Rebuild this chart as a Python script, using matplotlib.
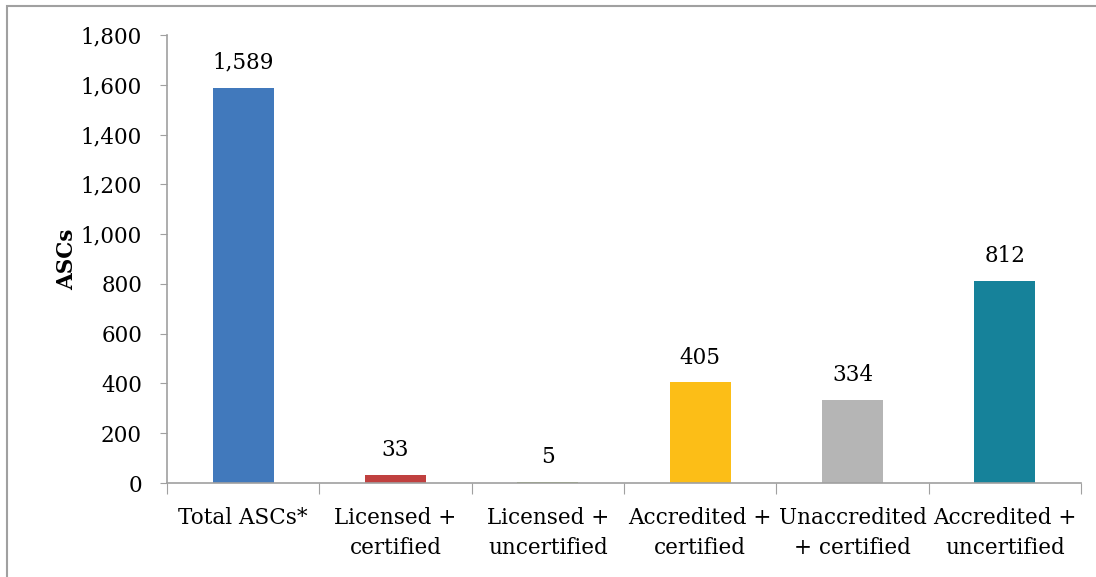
import matplotlib
matplotlib.use("Agg")
import matplotlib.pyplot as plt
from matplotlib.patches import Rectangle
from matplotlib.ticker import FuncFormatter, FixedLocator, NullFormatter

categories = ["Total ASCs*", "Licensed +\ncertified", "Licensed +\nuncertified",
              "Accredited +\ncertified", "Unaccredited\n+ certified", "Accredited +\nuncertified"]
values = [1589, 33, 5, 405, 334, 812]
colors = ["#4179BC", "#C0403F", "#8FB15A", "#FCBE17", "#B5B5B5", "#16829A"]

plt.rcParams["font.family"] = ["DejaVu Serif"]
FS = 15.5

fig = plt.figure(figsize=(10.96, 5.77), dpi=100)
ax = fig.add_axes([0.1524, 0.1629, 0.834, 0.7764])

x = range(len(categories))
ax.bar(x, values, width=0.4, color=colors)
for i, v in enumerate(values):
    ax.text(i, v + 55, f"{v:,}", ha="center", va="bottom", fontsize=FS)

ax.set_xlim(-0.5, len(categories) - 0.5)
ax.set_ylim(0, 1800)
ax.set_yticks(range(0, 1801, 200))
ax.yaxis.set_major_formatter(FuncFormatter(lambda v, p: f"{int(v):,}"))

# category boundaries get the tick marks, labels sit on minor ticks at centres
ax.xaxis.set_major_locator(FixedLocator([i - 0.5 for i in range(len(categories) + 1)]))
ax.xaxis.set_major_formatter(NullFormatter())
ax.xaxis.set_minor_locator(FixedLocator(list(x)))
ax.set_xticklabels(categories, minor=True, fontsize=FS, linespacing=1.5)
ax.tick_params(axis="x", which="minor", length=0, pad=17)
ax.tick_params(axis="x", which="major", length=8, color="#A0A0A0", direction="out")
ax.tick_params(axis="y", length=5, color="#A0A0A0", labelsize=FS, pad=13)

for s in ["top", "right"]:
    ax.spines[s].set_visible(False)
for s in ["left", "bottom"]:
    ax.spines[s].set_color("#A0A0A0")
    ax.spines[s].set_linewidth(1.2)

ax.set_ylabel("ASCs", fontsize=FS, fontweight="bold", labelpad=2)

# outer frame (only top and left edges fall inside the image)
fig.patches.append(Rectangle((0.0064, -0.5), 2, 1.4898, transform=fig.transFigure,
                             fill=False, edgecolor="#A0A0A0", linewidth=1.5))

fig.savefig("out.png", dpi=100)
